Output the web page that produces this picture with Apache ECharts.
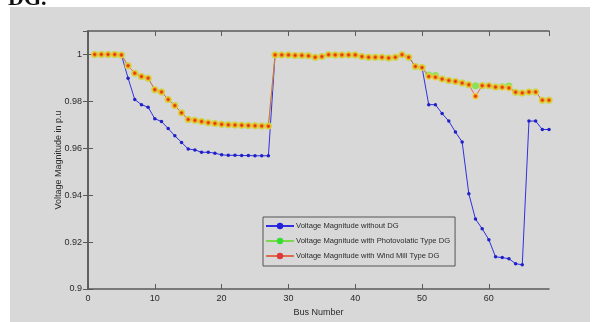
<!DOCTYPE html>
<html>
<head>
<meta charset="utf-8">
<script src="https://cdn.jsdelivr.net/npm/echarts@6/dist/echarts.min.js"></script>
<style>html,body{margin:0;padding:0;background:#fff}#c{width:598px;height:322px}</style>
</head>
<body>
<div id="c"></div>
<script>
var buses = [];
for (var i = 1; i <= 69; i++) buses.push(i);

var withoutDG = [1.0,1.0,1.0,1.0,0.9998,0.9899,0.9808,0.9786,0.9775,0.9726,
 0.9714,0.9684,0.9653,0.9625,0.9597,0.9593,0.9583,0.9583,0.9579,0.9572,
 0.9570,0.9570,0.9569,0.9569,0.9568,0.9568,0.9568,0.9998,0.9998,0.9998,
 0.9996,0.9996,0.9994,0.9988,0.9991,0.9999,0.9998,0.9998,0.9998,0.9998,
 0.9991,0.9988,0.9988,0.9988,0.9985,0.9988,0.9999,0.9988,0.9949,0.9944,
 0.9786,0.9786,0.9748,0.9716,0.9669,0.9627,0.9406,0.9298,0.9257,0.9210,
 0.9137,0.9134,0.9129,0.9108,0.9103,0.9716,0.9716,0.9680,0.9680];

var pvDG = [1.0,1.0,1.0,1.0,0.9998,0.9952,0.9920,0.9906,0.9899,0.9850,
 0.9840,0.9808,0.9782,0.9751,0.9723,0.9719,0.9714,0.9709,0.9706,0.9702,
 0.9700,0.9699,0.9698,0.9697,0.9696,0.9695,0.9696,0.9998,0.9998,0.9998,
 0.9996,0.9996,0.9994,0.9988,0.9991,0.9999,0.9998,0.9998,0.9998,0.9998,
 0.9991,0.9988,0.9988,0.9988,0.9985,0.9988,0.9999,0.9988,0.9949,0.9944,
 0.9912,0.9910,0.9895,0.9889,0.9885,0.9878,0.9871,0.9867,0.9867,0.9867,
 0.9861,0.9862,0.9866,0.9839,0.9836,0.9840,0.9840,0.9805,0.9805];

var windDG = [1.0,1.0,1.0,1.0,0.9998,0.9952,0.9920,0.9906,0.9899,0.9850,
 0.9840,0.9808,0.9782,0.9751,0.9723,0.9719,0.9714,0.9709,0.9706,0.9702,
 0.9700,0.9699,0.9698,0.9697,0.9696,0.9695,0.9694,0.9998,0.9998,0.9998,
 0.9996,0.9996,0.9994,0.9988,0.9991,0.9999,0.9998,0.9998,0.9998,0.9998,
 0.9991,0.9988,0.9988,0.9988,0.9985,0.9988,0.9999,0.9988,0.9949,0.9944,
 0.9906,0.9903,0.9895,0.9889,0.9885,0.9878,0.9871,0.9822,0.9867,0.9867,
 0.9861,0.9860,0.9857,0.9839,0.9836,0.9840,0.9840,0.9805,0.9805];

var seriesNames = ['Voltage Magnitude without DG',
  'Voltage Magnitude with Photovolatic Type DG',
  'Voltage Magnitude with Wind Mill Type DG'];

function pairs(vals){ return buses.map(function(b,i){ return [b, vals[i]]; }); }

var FONT = "'Liberation Sans',Arial,sans-serif";
var BG = '#d8d8d8';
var AX = '#5a5a5a';

var chart = echarts.init(document.getElementById('c'), null, {renderer:'canvas'});
chart.setOption({
  backgroundColor: BG,
  animation: false,
  graphic: [
    {type:'rect', shape:{x:0, y:0, width:598, height:7}, style:{fill:'#ffffff'}},
    {type:'rect', shape:{x:0, y:0, width:10, height:322}, style:{fill:'#ffffff'}},
    {type:'rect', shape:{x:590, y:0, width:8, height:322}, style:{fill:'#ffffff'}},
    {type:'text', left: 8, top: -12, style:{text:'DG.', font:"bold 22px 'Liberation Serif','Times New Roman',serif", fill:'#111'}}
  ],
  grid: {left: 88, right: 49, top: 31, bottom: 30, show: false},
  legend: {
    orient: 'vertical', left: 263, top: 217,
    backgroundColor: BG, borderColor: '#555', borderWidth: 1,
    padding: [5, 5, 6, 2], itemGap: 7, itemWidth: 28, itemHeight: 8,
    textStyle: {fontSize: 7.6, color: '#2a2a2a', fontFamily: FONT, padding:[0,0,0,-3]},
    data: [
      {name: seriesNames[0], itemStyle:{color:'#2222dd'}},
      {name: seriesNames[1], itemStyle:{color:'#33dd33'}},
      {name: seriesNames[2], itemStyle:{color:'#e03838'}}
    ]
  },
  xAxis: [{
    type: 'value', min: 0, max: 69, interval: 10, position: 'bottom',
    name: 'Bus Number', nameLocation: 'middle', nameGap: 19,
    nameTextStyle: {fontSize: 9, color: '#2a2a2a', fontFamily: FONT},
    axisLine: {lineStyle:{color: AX, width: 1.5}},
    axisTick: {inside: true, length: 5, lineStyle:{color: AX}},
    axisLabel: {fontSize: 9, color: '#2a2a2a', fontFamily: FONT, margin: 5, showMaxLabel: false},
    splitLine: {show: false}
  },{
    type: 'value', min: 0, max: 69, interval: 10, position: 'top',
    axisLine: {lineStyle:{color: AX, width: 1.5}},
    axisTick: {inside: true, length: 5, lineStyle:{color: AX}},
    axisLabel: {show: false}, splitLine: {show: false}
  }],
  yAxis: [{
    type: 'value', min: 0.9, max: 1.01, interval: 0.02, position: 'left',
    name: 'Voltage Magnitude in p.u', nameLocation: 'middle', nameGap: 25,
    nameMoveOverlap: false,
    nameTextStyle: {fontSize: 9, color: '#2a2a2a', fontFamily: FONT},
    axisLine: {show: true, lineStyle:{color: AX, width: 1.5}},
    axisTick: {show: true, inside: true, length: 5, lineStyle:{color: AX}},
    axisLabel: {fontSize: 9, color: '#2a2a2a', fontFamily: FONT, margin: 6, showMaxLabel: false,
      formatter: function(v){ return String(+v.toFixed(2)); }},
    splitLine: {show: false}
  },{
    type: 'value', min: 0.9, max: 1.01, interval: 0.02, position: 'right',
    axisLine: {show: true, lineStyle:{color: AX, width: 1.5}},
    axisTick: {show: true, inside: true, length: 5, lineStyle:{color: AX}},
    axisLabel: {show: false}, splitLine: {show: false}
  }],
  series: [{
    name: seriesNames[0], type: 'line', xAxisIndex: 0, yAxisIndex: 0,
    data: pairs(withoutDG), symbol: 'circle', symbolSize: 3.5, showSymbol: true,
    lineStyle: {color: '#3030e0', width: 1}, itemStyle: {color: '#2020c8'}, z: 2
  },{
    name: seriesNames[1], type: 'line', xAxisIndex: 0, yAxisIndex: 0,
    data: pairs(pvDG), symbol: 'circle', symbolSize: 7,
    lineStyle: {color: '#7ad84a', width: 1}, itemStyle: {color: '#8ee05a'}, z: 3
  },{
    name: seriesNames[2], type: 'line', xAxisIndex: 0, yAxisIndex: 0,
    data: pairs(windDG), symbol: 'circle', symbolSize: 7,
    lineStyle: {color: '#e06a50', width: 1},
    itemStyle: {color: {type:'radial', x:0.5, y:0.5, r:0.5, colorStops:[
      {offset:0, color:'#d8200c'}, {offset:0.35, color:'#e65a14'},
      {offset:0.7, color:'rgba(244,196,44,0.95)'}, {offset:1, color:'rgba(240,214,70,0.55)'}]}},
    z: 4
  }]
});
</script>
</body>
</html>
